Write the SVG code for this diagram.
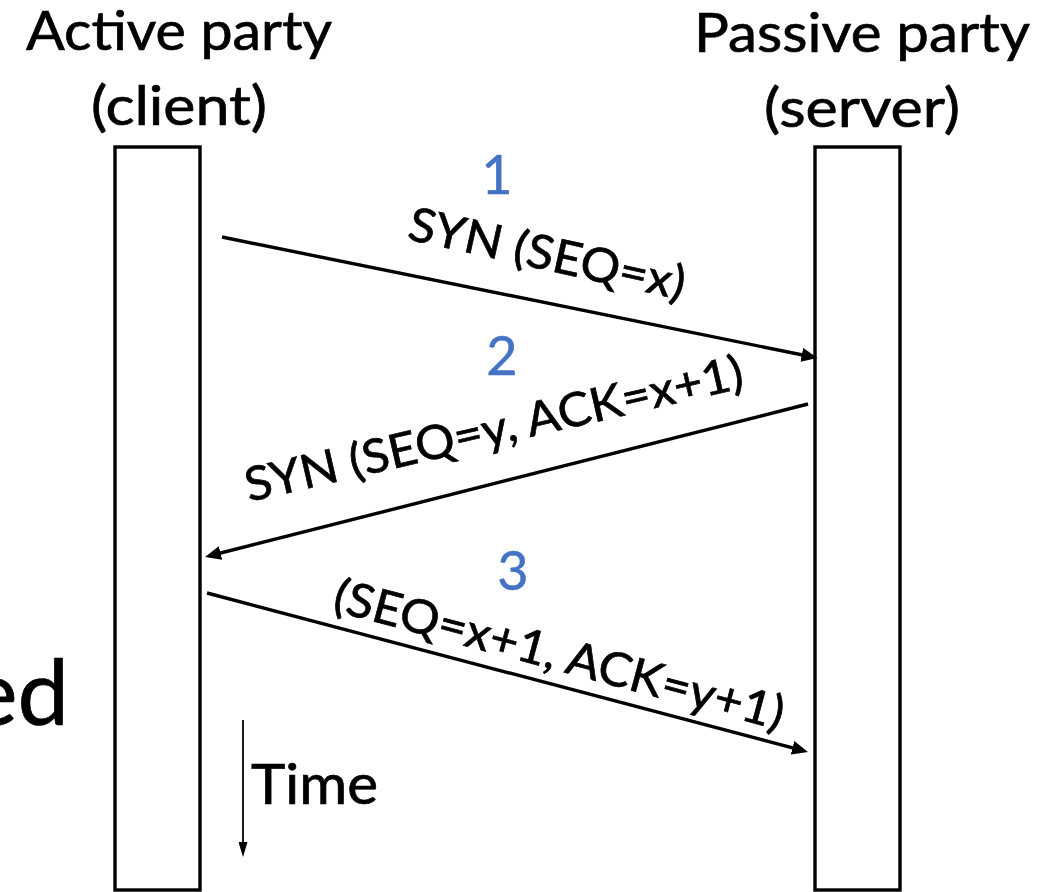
<svg xmlns="http://www.w3.org/2000/svg" width="1045" height="892" viewBox="0 0 1045 892">
  <style>
    .t { font-family: Lato, "Liberation Sans", sans-serif; fill: #000; stroke: #000; stroke-width: 0.7; }
    .title { font-size: 54px; }
    .num { font-family: Lato, "Liberation Sans", sans-serif; font-size: 54px; fill: #4472C4; stroke: #4472C4; stroke-width: 0.5; text-anchor: middle; }
    .lbl { font-size: 47px; }
    .box { fill: #fff; stroke: #000; stroke-width: 3.4; }
    .msg { stroke: #000; stroke-width: 3.4; fill: none; marker-end: url(#ah); }
    .time { stroke: #000; stroke-width: 1.8; fill: none; marker-end: url(#ahs); }
  </style>
  <defs>
    <marker id="ah" viewBox="0 0 16 14" refX="6" refY="7" markerWidth="16" markerHeight="14" markerUnits="userSpaceOnUse" orient="auto">
      <path d="M0,0 L16,7 L0,14 z" fill="#000"/>
    </marker>
    <marker id="ahs" viewBox="0 0 15 9" refX="5" refY="4.5" markerWidth="15" markerHeight="9" markerUnits="userSpaceOnUse" orient="auto">
      <path d="M0,0 L15,4.5 L0,9 z" fill="#000"/>
    </marker>
  </defs>
  <rect width="1045" height="892" fill="#fff"/>

  <g id="background-text">
    <text class="t" x="69" y="725" font-size="92" text-anchor="end">ed</text>
  </g>

  <g id="client">
    <text class="t title" x="179" y="50" text-anchor="middle" textLength="306" lengthAdjust="spacingAndGlyphs">Active party</text>
    <text class="t title" x="179" y="125" text-anchor="middle" textLength="176" lengthAdjust="spacingAndGlyphs">(client)</text>
    <rect class="box" x="115" y="147" width="85" height="743"/>
  </g>

  <g id="server">
    <text class="t title" x="862" y="52" text-anchor="middle" textLength="336" lengthAdjust="spacingAndGlyphs">Passive party</text>
    <text class="t title" x="862" y="127" text-anchor="middle" textLength="196" lengthAdjust="spacingAndGlyphs">(server)</text>
    <rect class="box" x="815" y="147" width="85" height="743"/>
  </g>

  <g id="connectors">
    <line class="msg" x1="222" y1="237" x2="807.7" y2="356"/>
    <line class="msg" x1="808" y1="404" x2="214.7" y2="554.5"/>
    <line class="msg" x1="207" y1="593" x2="798.3" y2="749.4"/>
    <line class="time" x1="243" y1="720" x2="243" y2="847"/>
  </g>

  <g id="step1">
    <text class="num" x="497" y="194">1</text>
    <text class="t lbl" transform="translate(406,239) rotate(12.5)" x="0" y="0" textLength="282" lengthAdjust="spacingAndGlyphs">SYN (SEQ=x)</text>
  </g>

  <g id="step2">
    <text class="num" x="502" y="375">2</text>
    <text class="t lbl" transform="translate(249,502) rotate(-13)" x="0" y="0" textLength="510" lengthAdjust="spacingAndGlyphs">SYN (SEQ=y, ACK=x+1)</text>
  </g>

  <g id="step3">
    <text class="num" x="513" y="590">3</text>
    <text class="t lbl" transform="translate(331,610) rotate(15)" x="0" y="0" textLength="464" lengthAdjust="spacingAndGlyphs">(SEQ=x+1, ACK=y+1)</text>
  </g>

  <g id="time-axis">
    <text class="t" x="251" y="804" font-size="56" textLength="127" lengthAdjust="spacingAndGlyphs">Time</text>
  </g>
</svg>
